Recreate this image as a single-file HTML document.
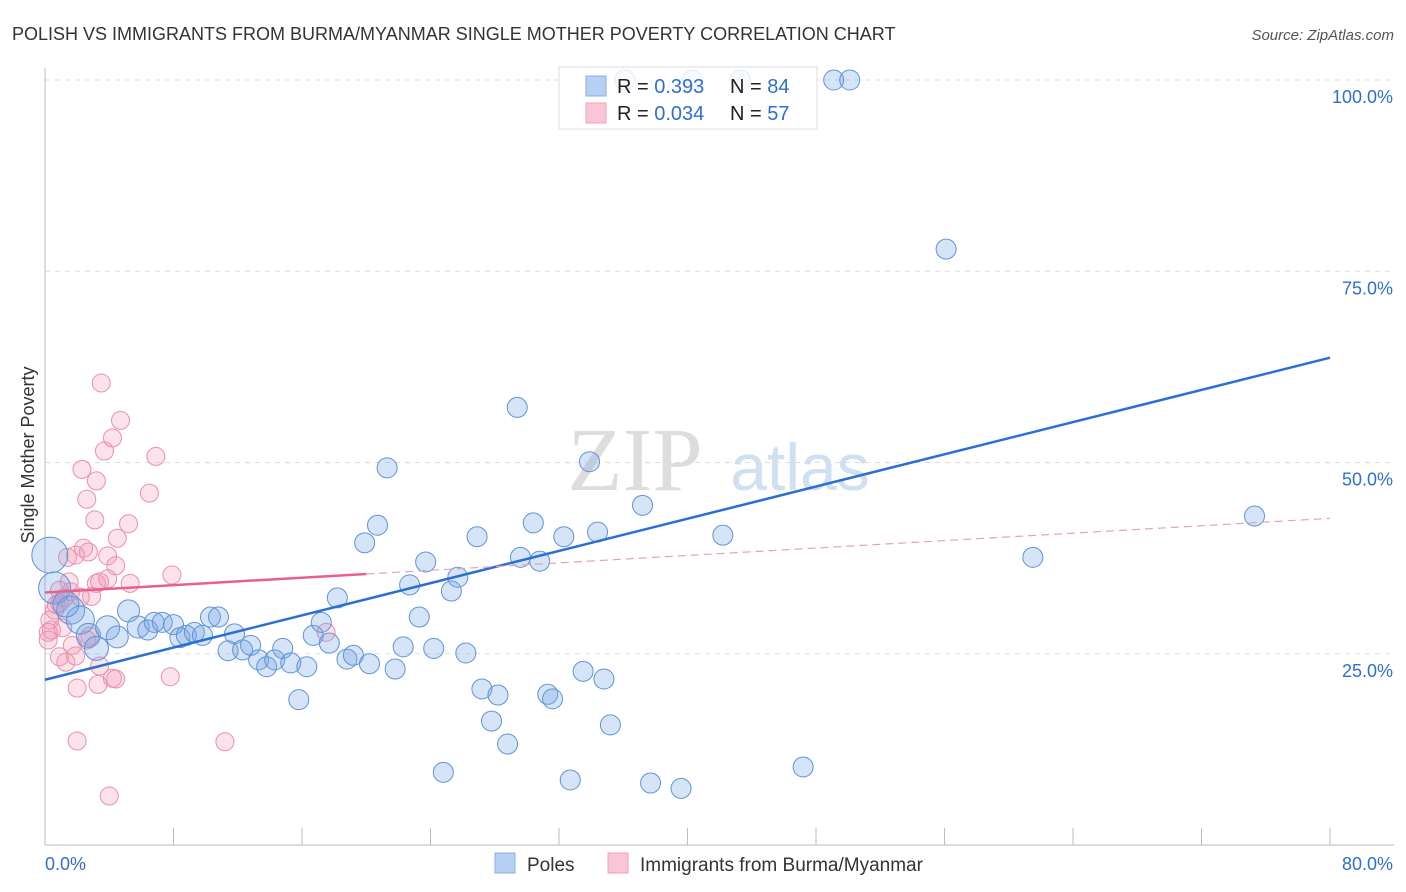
<!DOCTYPE html>
<html><head><meta charset="utf-8"><style>
body{margin:0;background:#fff;font-family:"Liberation Sans",sans-serif}
svg{display:block}
</style></head><body>
<svg id="c" width="1406" height="892">
<text x="12" y="40" font-size="18" fill="#333">POLISH VS IMMIGRANTS FROM BURMA/MYANMAR SINGLE MOTHER POVERTY CORRELATION CHART</text>
<text x="1394" y="40" font-size="15" fill="#555" font-style="italic" text-anchor="end">Source: ZipAtlas.com</text>
<g>
<text x="635" y="490" font-size="90" fill="#ddd" font-family="Liberation Serif,serif" text-anchor="middle">ZIP</text>
<text x="800" y="490" font-size="66" fill="#cfe0f3" text-anchor="middle">atlas</text>
</g>
<g id="grid"></g><g id="axes"></g><g id="pts"></g><g id="lines"></g>
<text transform="translate(34,455) rotate(-90)" font-size="18" fill="#333" text-anchor="middle">Single Mother Poverty</text>
<g>
<rect x="559" y="67" width="258" height="62" fill="rgba(255,255,255,0.82)" stroke="#ddd"/>
<rect x="586" y="76" width="20" height="20" fill="#b8d1f3" stroke="#86aee6"/>
<rect x="586" y="103" width="20" height="20" fill="#f9c6d5" stroke="#f0a0b8"/>
<text x="617" y="93" font-size="20" fill="#222">R = <tspan fill="#2f6fd0">0.393</tspan><tspan x="730">N = </tspan><tspan fill="#2f6fd0">84</tspan></text>
<text x="617" y="120" font-size="20" fill="#222">R = <tspan fill="#2f6fd0">0.034</tspan><tspan x="730">N = </tspan><tspan fill="#2f6fd0">57</tspan></text>
</g>
<g>
<rect x="495" y="853" width="20" height="20" fill="#b8d1f3" stroke="#86aee6"/>
<text x="527" y="871" font-size="19" fill="#333">Poles</text>
<rect x="608" y="853" width="20" height="20" fill="#f9c6d5" stroke="#f0a0b8"/>
<text x="640" y="871" font-size="19" fill="#333">Immigrants from Burma/Myanmar</text>
</g>
</svg>
<script>
const yTicks=[25,50,75,100];
const yTickLabels=["25.0%","50.0%","75.0%","100.0%"];
const xTickCount=10;
const xAxisLabels=["0.0%","80.0%"];
const polesX=[0.3,0.6,1.6,2.2,1.3,2.7,3.2,3.9,4.5,5.2,5.8,6.4,6.8,7.3,8.0,8.4,8.8,9.3,9.8,10.3,10.8,11.4,11.8,12.3,12.8,13.3,13.8,14.3,14.8,15.3,15.8,16.3,16.7,17.2,17.7,18.2,18.8,19.2,19.9,20.2,20.7,21.3,21.8,22.3,22.7,23.3,23.7,24.2,24.8,25.3,25.7,26.2,26.9,27.2,27.8,28.2,28.8,29.4,29.6,30.4,30.8,31.3,31.6,32.3,32.7,33.5,33.9,34.4,34.8,35.2,37.2,37.7,39.6,42.2,47.2,56.1,61.5,75.3,49.1,50.1,36.1,40.3,43.3];
const polesY=[37.9,33.6,30.7,29.4,31.5,27.4,25.7,28.4,27.2,30.6,28.5,28.1,29.1,29.1,28.8,27.1,27.4,27.8,27.4,29.8,29.8,25.4,27.6,25.5,26.1,24.2,23.3,24.2,25.7,23.8,19.0,23.3,27.4,29.1,26.4,32.3,24.3,24.8,39.5,23.7,41.8,49.3,23.0,25.9,34.0,29.8,37.0,25.7,9.5,33.2,35.0,25.1,40.3,20.4,16.2,19.6,13.2,57.2,37.6,42.1,37.1,19.7,19.1,40.3,8.5,22.7,50.1,40.9,21.7,15.7,44.4,8.1,7.4,40.5,10.2,77.9,37.6,43.0,100,100,100,100,100];
const polesR=[18,16,14,14,13,12,12,12,11,11,11,10,10,10,10,10,10,10,10,10,10,10,10,10,10,10,10,10,10,10,10,10,10,10,10,10,10,10,10,10,10,10,10,10,10,10,10,10,10,10,10,10,10,10,10,10,10,10,10,10,10,10,10,10,10,10,10,10,10,10,10,10,10,10,10,10,10,10,10,10,10,10,10];
const burmaX=[3.5,4.7,4.2,3.7,6.9,2.3,6.5,3.2,2.6,3.1,5.2,4.5,2.4,1.9,2.7,1.4,3.9,4.4,7.9,3.9,5.3,1.5,3.2,3.4,2.9,0.9,1.6,1.2,0.7,0.3,0.4,0.2,1.1,2.8,2.6,1.7,0.9,1.3,1.9,3.4,2.0,3.3,4.2,4.4,7.8,2.0,11.2,4.0,17.5,0.6,0.2,0.9,2.2];
const burmaY=[60.4,55.5,53.2,51.5,50.8,49.1,46.0,47.6,45.2,42.5,42.0,40.1,38.8,37.9,38.3,37.6,37.8,36.5,35.3,34.8,34.2,34.4,34.2,34.4,32.5,33.3,33.1,32.3,31.4,29.4,28.1,26.8,28.4,27.3,26.8,26.1,24.6,23.9,24.7,23.4,20.5,21.0,21.8,21.7,22.0,13.6,13.5,6.4,27.8,30.7,27.8,31.6,32.4];
const polesTrend=[21.6,63.7];
const burmaTrend=[33.0,42.7];
const burmaSolidEnd=20;
const X0=45,X1=1330,Y0=845,Y1=80;
const sx=v=>X0+(v/80)*(X1-X0);
const sy=v=>Y0-(v/100)*(Y0-Y1);
const NS="http://www.w3.org/2000/svg";
function mk(t,a,p){const e=document.createElementNS(NS,t);for(const k in a)e.setAttribute(k,a[k]);p.appendChild(e);return e;}
const grid=document.getElementById('grid'),axes=document.getElementById('axes'),pts=document.getElementById('pts'),lines=document.getElementById('lines');
yTicks.forEach((t,i)=>{
 const l=mk('line',{x1:X0,x2:1394,y1:sy(t),y2:sy(t),stroke:'#ddd','stroke-dasharray':'5,5'},grid);
 
 
 const tx=mk('text',{x:1393,y:sy(t)+23,'font-size':18,fill:'#2f6fd0','text-anchor':'end'},grid);
 tx.textContent=yTickLabels[i];
 
 
});
const ax=mk('line',{x1:X0,x2:X0,y1:68,y2:Y0,stroke:'#bbb'},axes);


const bx=mk('line',{x1:X0,x2:1394,y1:Y0,y2:Y0,stroke:'#bbb'},axes);


for(let i=0;i<=xTickCount;i++){
 const v=i*80/xTickCount;
 const t=mk('line',{x1:sx(v),x2:sx(v),y1:828,y2:Y0,stroke:'#bbb'},axes);
 
 
}
const xl0=mk('text',{x:45,y:870,'font-size':18,fill:'#2f6fd0'},axes);xl0.textContent=xAxisLabels[0];


const xl1=mk('text',{x:1393,y:870,'font-size':18,fill:'#2f6fd0','text-anchor':'end'},axes);xl1.textContent=xAxisLabels[1];


burmaX.forEach((x,i)=>{
 const c=mk('circle',{cx:sx(x),cy:sy(burmaY[i]),r:9,fill:'rgba(245,150,180,0.28)',stroke:'#eb8fab','stroke-width':1},pts);
 
 
});
polesX.forEach((x,i)=>{
 const c=mk('circle',{cx:sx(x),cy:sy(polesY[i]),r:polesR[i]||9,fill:'rgba(120,165,230,0.3)',stroke:'#5e93d9','stroke-width':1},pts);
 
 
});
const pt=mk('line',{x1:sx(0),y1:sy(polesTrend[0]),x2:sx(80),y2:sy(polesTrend[1]),stroke:'#2a6fd4','stroke-width':2.5},lines);


const bAt=v=>burmaTrend[0]+(burmaTrend[1]-burmaTrend[0])*v/80;
const bs=mk('line',{x1:sx(0),y1:sy(bAt(0)),x2:sx(burmaSolidEnd),y2:sy(bAt(burmaSolidEnd)),stroke:'#e8608c','stroke-width':2.5},lines);


const bd=mk('line',{x1:sx(burmaSolidEnd),y1:sy(bAt(burmaSolidEnd)),x2:sx(80),y2:sy(bAt(80)),stroke:'#e8a0b6','stroke-width':1.2,'stroke-dasharray':'8,5'},lines);


</script>
</body></html>
